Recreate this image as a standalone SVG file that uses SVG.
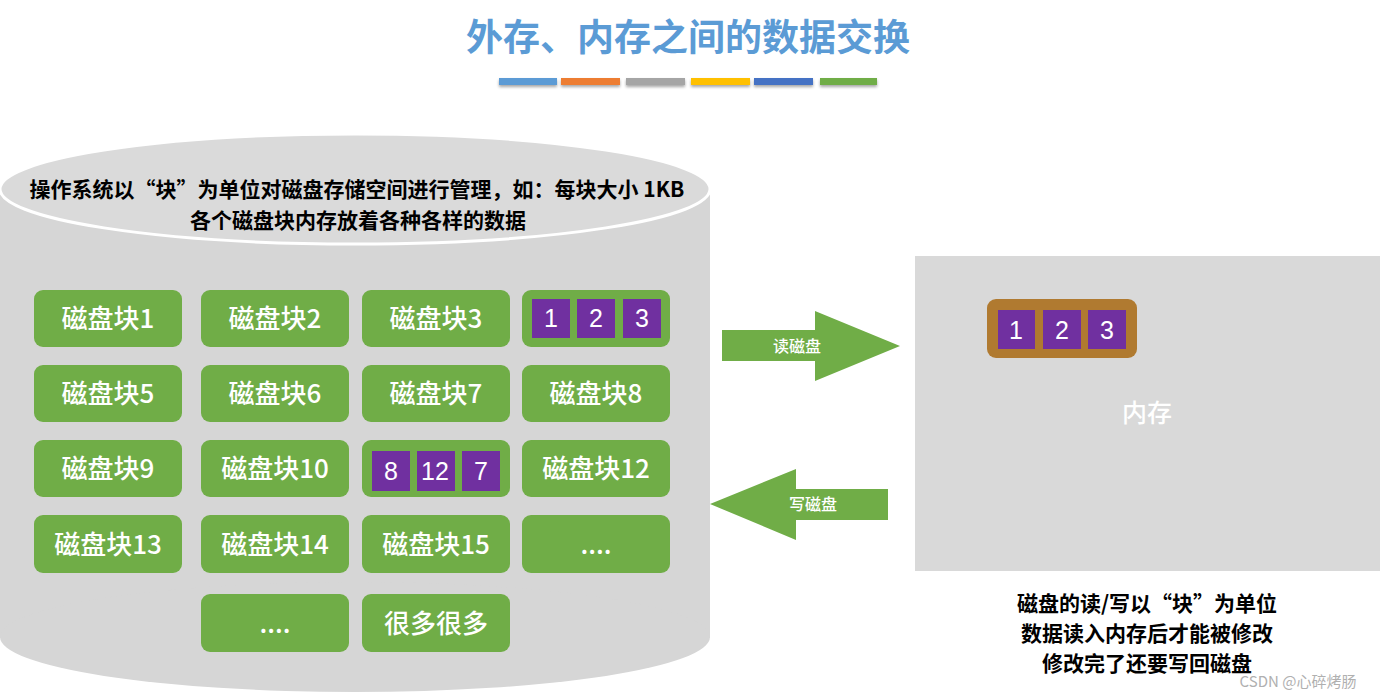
<svg xmlns="http://www.w3.org/2000/svg" width="1380" height="699" viewBox="0 0 1380 699">
<defs>
<filter id="sh" x="-10%" y="-50%" width="120%" height="250%"><feDropShadow dx="0" dy="2" stdDeviation="1.5" flood-color="#000" flood-opacity="0.35"/></filter>
</defs>
<style>
.cjk{font-family:"Noto Sans CJK SC","Liberation Sans",sans-serif}
.blk{fill:#70ad47}
.bt{fill:#fff;font-size:26px;font-weight:500;text-anchor:middle}
.pp{fill:#7030a0}
.pn{fill:#fff;font-size:25px;text-anchor:middle;font-family:"Liberation Sans","Noto Sans CJK SC",sans-serif}
.desc{fill:#000;font-size:21px;font-weight:bold;text-anchor:middle}
.arw{fill:#70ad47}
.at{fill:#fff;font-size:16px;font-weight:500;text-anchor:middle}
</style>
<rect width="1380" height="699" fill="#fff"/>
<g id="title">
<text x="688" y="51" class="cjk" font-size="37" font-weight="bold" fill="#5b9bd5" text-anchor="middle">外存、内存之间的数据交换</text>
<g filter="url(#sh)">
<rect x="499" y="78" width="58" height="7" fill="#5b9bd5"/>
<rect x="561" y="78" width="59" height="7" fill="#ed7d31"/>
<rect x="626" y="78" width="59" height="7" fill="#a5a5a5"/>
<rect x="691" y="78" width="59" height="7" fill="#ffc000"/>
<rect x="754" y="78" width="59" height="7" fill="#4472c4"/>
<rect x="820" y="78" width="57" height="7" fill="#70ad47"/>
</g>
</g>
<g id="disk">
<rect x="0" y="189" width="710" height="449" fill="#d6d6d6"/>
<ellipse cx="355" cy="637" rx="355" ry="55" fill="#d6d6d6"/>
<ellipse cx="355" cy="189" rx="355" ry="55" fill="#dadada" stroke="#fff" stroke-width="3"/>
<text x="357" y="197" class="cjk desc">操作系统以“块”为单位对磁盘存储空间进行管理，如：每块大小 1KB</text>
<text x="358" y="228" class="cjk desc">各个磁盘块内存放着各种各样的数据</text>
</g>
<g id="block1"><rect class="blk" x="34" y="290" width="148" height="57" rx="9"/><text class="cjk bt" x="108" y="328">磁盘块1</text></g>
<g id="block2"><rect class="blk" x="201" y="290" width="148" height="57" rx="9"/><text class="cjk bt" x="275" y="328">磁盘块2</text></g>
<g id="block3"><rect class="blk" x="362" y="290" width="148" height="57" rx="9"/><text class="cjk bt" x="436" y="328">磁盘块3</text></g>
<g id="block4"><rect class="blk" x="522" y="290" width="148" height="57" rx="9"/>
<rect class="pp" x="532" y="299" width="38" height="39"/><text class="pn" x="551" y="327">1</text>
<rect class="pp" x="577" y="299" width="38" height="39"/><text class="pn" x="596" y="327">2</text>
<rect class="pp" x="623" y="299" width="38" height="39"/><text class="pn" x="642" y="327">3</text></g>
<g id="block5"><rect class="blk" x="34" y="365" width="148" height="57" rx="9"/><text class="cjk bt" x="108" y="403">磁盘块5</text></g>
<g id="block6"><rect class="blk" x="201" y="365" width="148" height="57" rx="9"/><text class="cjk bt" x="275" y="403">磁盘块6</text></g>
<g id="block7"><rect class="blk" x="362" y="365" width="148" height="57" rx="9"/><text class="cjk bt" x="436" y="403">磁盘块7</text></g>
<g id="block8"><rect class="blk" x="522" y="365" width="148" height="57" rx="9"/><text class="cjk bt" x="596" y="403">磁盘块8</text></g>
<g id="block9"><rect class="blk" x="34" y="440" width="148" height="57" rx="9"/><text class="cjk bt" x="108" y="478">磁盘块9</text></g>
<g id="block10"><rect class="blk" x="201" y="440" width="148" height="57" rx="9"/><text class="cjk bt" x="275" y="478">磁盘块10</text></g>
<g id="block11"><rect class="blk" x="362" y="440" width="148" height="57" rx="9"/>
<rect class="pp" x="372" y="451" width="38" height="40"/><text class="pn" x="391" y="480">8</text>
<rect class="pp" x="417" y="451" width="38" height="40"/><text class="pn" x="435" y="480" font-size="24">12</text>
<rect class="pp" x="462" y="451" width="38" height="40"/><text class="pn" x="481" y="480">7</text></g>
<g id="block12"><rect class="blk" x="522" y="440" width="148" height="57" rx="9"/><text class="cjk bt" x="596" y="478">磁盘块12</text></g>
<g id="block13"><rect class="blk" x="34" y="515" width="148" height="58" rx="9"/><text class="cjk bt" x="108" y="554">磁盘块13</text></g>
<g id="block14"><rect class="blk" x="201" y="515" width="148" height="58" rx="9"/><text class="cjk bt" x="275" y="554">磁盘块14</text></g>
<g id="block15"><rect class="blk" x="362" y="515" width="148" height="58" rx="9"/><text class="cjk bt" x="436" y="554">磁盘块15</text></g>
<g id="block16"><rect class="blk" x="522" y="515" width="148" height="58" rx="9"/><text class="cjk bt" x="596" y="554">....</text></g>
<g id="block17"><rect class="blk" x="201" y="594" width="148" height="58" rx="9"/><text class="cjk bt" x="275" y="633">....</text></g>
<g id="block18"><rect class="blk" x="362" y="594" width="148" height="58" rx="9"/><text class="cjk bt" x="436" y="633">很多很多</text></g>
<g id="memory">
<rect x="915" y="256" width="465" height="315" fill="#d9d9d9"/>
<text class="cjk" x="1147" y="422" font-size="25" font-weight="500" fill="#fff" text-anchor="middle">内存</text>
<rect x="987" y="299" width="150" height="59" rx="9" fill="#b07a30"/>
<rect class="pp" x="998" y="310" width="37" height="39"/><text class="pn" x="1016" y="339">1</text>
<rect class="pp" x="1043" y="310" width="38" height="39"/><text class="pn" x="1062" y="339">2</text>
<rect class="pp" x="1088" y="310" width="38" height="39"/><text class="pn" x="1107" y="339">3</text>
</g>
<g id="connectors">
<g id="read-arrow"><polygon class="arw" points="722,330 815,330 815,311 900,346 815,381 815,361 722,361"/><text class="cjk at" x="797" y="352">读磁盘</text></g>
<g id="write-arrow"><polygon class="arw" points="888,489 796,489 796,469 710,504 796,540 796,520 888,520"/><text class="cjk at" x="813" y="510">写磁盘</text></g>
</g>
<g id="notes">
<text class="cjk desc" x="1147" y="611">磁盘的读/写以“块”为单位</text>
<text class="cjk desc" x="1147" y="641">数据读入内存后才能被修改</text>
<text class="cjk desc" x="1147" y="671">修改完了还要写回磁盘</text>
<text class="cjk" x="1298" y="687" font-size="15" fill="#b0b0b0" text-anchor="middle">CSDN @心碎烤肠</text>
</g>
</svg>
